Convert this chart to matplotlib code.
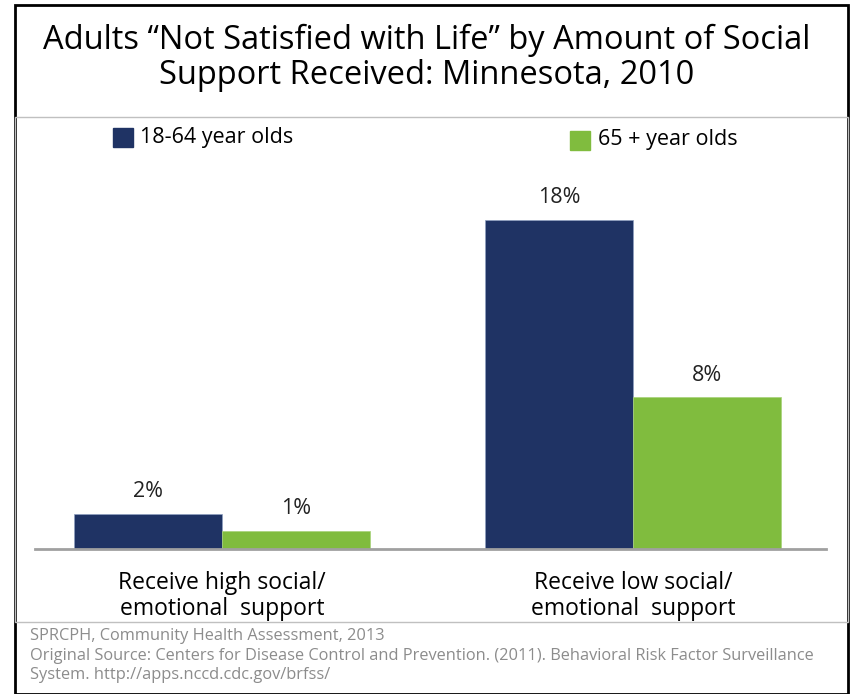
import matplotlib.pyplot as plt
from matplotlib.patches import Rectangle
import numpy as np

plt.rcParams['font.family'] = ['Open Sans', 'DejaVu Sans']

categories = ["Receive high social/\nemotional  support", "Receive low social/\nemotional  support"]
series_names = ["18-64 year olds", "65 + year olds"]
adults_18_64 = [1.9, 18.0]
adults_65_plus = [1.0, 8.3]
colors = ["#1f3364", "#80bc3e"]

fig = plt.figure(figsize=(8.5, 6.94), dpi=100)
W, H = 850, 694

# cadres
fig.patches.append(Rectangle((15 / W, 0), 833 / W, 689 / H, transform=fig.transFigure,
                             fill=False, edgecolor="black", linewidth=2))
fig.patches.append(Rectangle((15 / W, (H - 622) / H), 833 / W, 505 / H, transform=fig.transFigure,
                             fill=False, edgecolor="#c0c0c0", linewidth=1))

fig.text(427 / W, 1 - 40 / H, "Adults \u201cNot Satisfied with Life\u201d by Amount of Social",
         ha="center", va="center", fontsize=23.5)
fig.text(427 / W, 1 - 75 / H, "Support Received: Minnesota, 2010",
         ha="center", va="center", fontsize=23.5)

ax = fig.add_axes([35 / W, (H - 549) / H, 791 / W, 389 / H])
x = np.arange(len(categories))
w = 0.36
b1 = ax.bar(x - w / 2, adults_18_64, w, color=colors[0], edgecolor="#8fa0c0", linewidth=0.5)
b2 = ax.bar(x + w / 2, adults_65_plus, w, color=colors[1], edgecolor="#a8d27a", linewidth=0.5)

for bars, vals in [(b1, adults_18_64), (b2, adults_65_plus)]:
    for rect, v in zip(bars, vals):
        ax.text(rect.get_x() + rect.get_width() / 2, v + 0.65, f"{v:.0f}%",
                ha="center", va="bottom", fontsize=15.5, color="#222222")

ax.set_xlim(-0.455, 1.47)
ax.set_ylim(0, 21.3)
ax.set_yticks([])
ax.set_xticks(x)
ax.set_xticklabels(categories, fontsize=16.5, linespacing=1.1)
ax.tick_params(axis="x", length=0, pad=16)
for s in ["top", "right", "left"]:
    ax.spines[s].set_visible(False)
ax.spines["bottom"].set_color("#a0a0a0")
ax.spines["bottom"].set_linewidth(2)

# légende
fig.patches.append(Rectangle((113 / W, 1 - 147 / H), 20 / W, 19 / H, transform=fig.transFigure,
                             color=colors[0]))
fig.text(140 / W, 1 - 138 / H, series_names[0], va="center", fontsize=15.5)
fig.patches.append(Rectangle((570 / W, 1 - 150 / H), 20 / W, 19 / H, transform=fig.transFigure,
                             color=colors[1]))
fig.text(598 / W, 1 - 140 / H, series_names[1], va="center", fontsize=15.5)

src = ("SPRCPH, Community Health Assessment, 2013\n"
       "Original Source: Centers for Disease Control and Prevention. (2011). Behavioral Risk Factor Surveillance\n"
       "System. http://apps.nccd.cdc.gov/brfss/")
fig.text(30 / W, 1 - 628 / H, src, va="top", ha="left", fontsize=11.8, color="#8c8c8c", linespacing=1.3)

fig.savefig("out.png", dpi=100)
